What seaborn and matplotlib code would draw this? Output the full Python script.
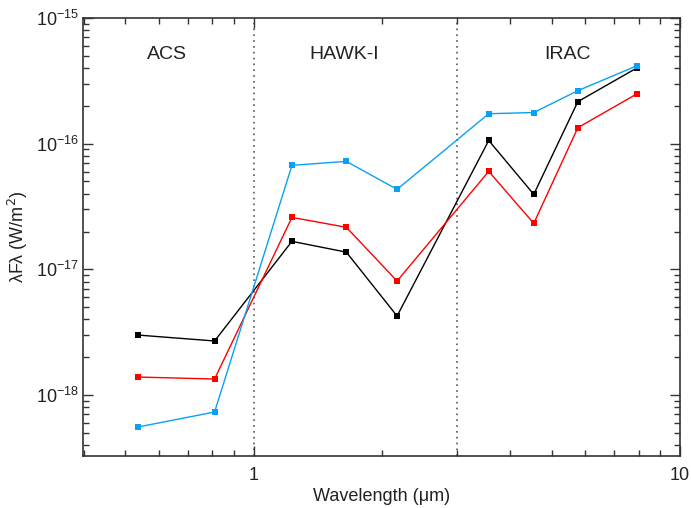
import numpy as np
import pandas as pd
import matplotlib
matplotlib.use("Agg")
import matplotlib.pyplot as plt
import seaborn as sns
from matplotlib.ticker import LogLocator, NullFormatter

wavelength = [0.535, 0.81, 1.23, 1.65, 2.17, 3.56, 4.54, 5.76, 7.94]
black_flux = [3.0e-18, 2.69e-18, 1.67e-17, 1.37e-17, 4.25e-18, 1.06e-16, 3.95e-17, 2.16e-16, 4.02e-16]
red_flux = [1.39e-18, 1.34e-18, 2.59e-17, 2.16e-17, 8.07e-18, 6.02e-17, 2.32e-17, 1.34e-16, 2.5e-16]
blue_flux = [5.56e-19, 7.32e-19, 6.72e-17, 7.23e-17, 4.33e-17, 1.73e-16, 1.77e-16, 2.64e-16, 4.18e-16]
series_names = ["black", "red", "blue"]
colors = ["#000000", "#ff0000", "#0aa0f5"]
region_labels = ["ACS", "HAWK-I", "IRAC"]
region_label_x = [0.625, 1.635, 5.46]
region_bounds = [1.0, 3.0]

df = pd.DataFrame({
    "wl": wavelength * 3,
    "flux": black_flux + red_flux + blue_flux,
    "series": sum([[n] * len(wavelength) for n in series_names], []),
})

sns.set_style("ticks")
plt.rcParams["font.family"] = ["Liberation Sans", "DejaVu Sans"]

fig = plt.figure(figsize=(6.91, 5.08), dpi=100)
ax = fig.add_axes([83/691, 52/508, (680-83)/691, (456-18)/508])

sns.lineplot(data=df, x="wl", y="flux", hue="series", hue_order=series_names,
             palette=colors, marker="s", markersize=5, markeredgewidth=0,
             linewidth=1, sort=False, legend=False, ax=ax)

ax.set_xscale("log")
ax.set_yscale("log")
ax.set_xlim(0.398, 10)
ax.set_ylim(3.27e-19, 1e-15)

for b in region_bounds:
    ax.axvline(b, color="#555555", linestyle=(0, (1, 2.5)), linewidth=1.2, zorder=0)

for lab, xv in zip(region_labels, region_label_x):
    ax.text(xv, 5.1e-16, lab, ha="center", va="center", fontsize=14, color="#222222")

ax.xaxis.set_major_locator(LogLocator(base=10, numticks=10))
ax.xaxis.set_minor_locator(LogLocator(base=10, subs=np.arange(2, 10), numticks=20))
ax.xaxis.set_minor_formatter(NullFormatter())
ax.yaxis.set_major_locator(LogLocator(base=10, numticks=10))
ax.yaxis.set_minor_locator(LogLocator(base=10, subs=np.arange(2, 10), numticks=20))
ax.yaxis.set_minor_formatter(NullFormatter())
ax.xaxis.set_major_formatter(matplotlib.ticker.FuncFormatter(lambda v, p: f"{v:g}"))

ax.tick_params(which="both", direction="in", top=True, right=True, color="#333333", labelcolor="#222222")
ax.tick_params(which="major", length=7, width=1, labelsize=13)
ax.tick_params(axis="x", which="major", pad=8)
ax.tick_params(axis="y", which="major", pad=3)
ax.tick_params(which="minor", length=4, width=1)
for s in ax.spines.values():
    s.set_linewidth(1.2)
    s.set_color("#333333")

ax.set_xlabel("Wavelength (μm)", fontsize=13, color="#222222", labelpad=3)
ax.set_ylabel("λFλ (W/m$^2$)", fontsize=13, color="#222222", labelpad=4)

fig.savefig("out.png", dpi=100)
